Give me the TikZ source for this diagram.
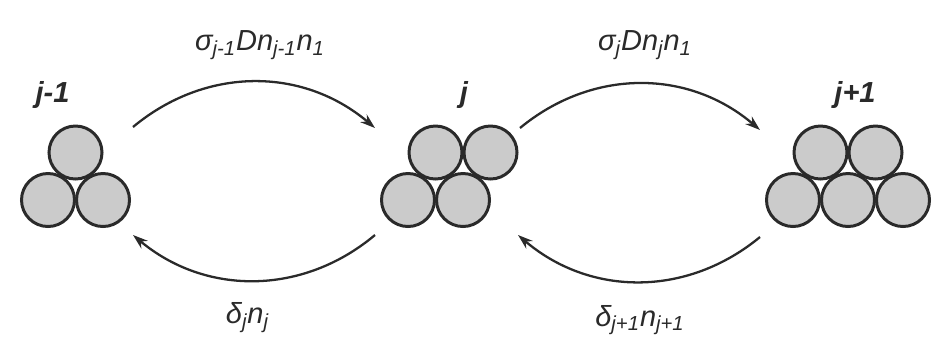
\documentclass[tikz,border=0pt]{standalone}
\usepackage{fontspec}
\usetikzlibrary{arrows.meta}
\newfontfamily\labfont{Liberation Sans}
\definecolor{ink}{HTML}{2A2A2A}
\definecolor{ballfill}{HTML}{CBCBCB}
\newcommand{\rate}{\labfont\fontsize{16.5}{19}\selectfont\itshape}
\tikzset{
 ball/.style={circle,draw=ink,fill=ballfill,line width=1.7pt,minimum size=10.6mm,inner sep=0pt},
 size/.style={font=\rate\bfseries,text=ink,inner sep=1pt},
 rlabel/.style={font=\rate,text=ink,inner sep=1pt},
 flux/.style={-{Stealth[length=3mm,width=2mm]},draw=ink,line width=1.3pt},
}
\begin{document}
\begin{tikzpicture}

\useasboundingbox (0,0) rectangle (19,7);
\fill[white] (0,0) rectangle (19,7);
% cluster j-1
\node[ball] (a1) at (0.96,3.0) {};
\node[ball] (a2) at (2.06,3.0) {};
\node[ball] (a3) at (1.51,3.95) {};
\node[size] (sa) at (1.05,5.1) {j-1};
% cluster j
\node[ball] (b1) at (8.16,3.0) {};
\node[ball] (b2) at (9.26,3.0) {};
\node[ball] (b3) at (8.71,3.95) {};
\node[ball] (b4) at (9.81,3.95) {};
\node[size] (sb) at (9.28,5.1) {j};
% cluster j+1
\node[ball] (c1) at (15.86,3.0) {};
\node[ball] (c2) at (16.96,3.0) {};
\node[ball] (c3) at (18.06,3.0) {};
\node[ball] (c4) at (16.41,3.95) {};
\node[ball] (c5) at (17.51,3.95) {};
\node[size] (sc) at (17.1,5.1) {j+1};
% arrow ends
\coordinate (g1) at (2.66,4.46); \coordinate (g2) at (7.5,4.44);
\coordinate (g3) at (10.4,4.44); \coordinate (g4) at (15.2,4.4);
\coordinate (d1) at (7.5,2.3); \coordinate (d2) at (2.66,2.3);
\coordinate (d3) at (15.2,2.26); \coordinate (d4) at (10.36,2.3);
\draw[flux] (g1) to[bend left=40] (g2);
\draw[flux] (g3) to[bend left=40] (g4);
\draw[flux] (d1) to[bend left=40] (d2);
\draw[flux] (d3) to[bend left=40] (d4);
% rates
\node[rlabel] (up1) at (5.2,6.1) {σ\textsubscript{j-1}Dn\textsubscript{j-1}n\textsubscript{1}};
\node[rlabel] (up2) at (12.9,6.1) {σ\textsubscript{j}Dn\textsubscript{j}n\textsubscript{1}};
\node[rlabel] (dn1) at (4.95,0.65) {δ\textsubscript{j}n\textsubscript{j}};
\node[rlabel] (dn2) at (12.8,0.6) {δ\textsubscript{j+1}n\textsubscript{j+1}};

\end{tikzpicture}
\end{document}
